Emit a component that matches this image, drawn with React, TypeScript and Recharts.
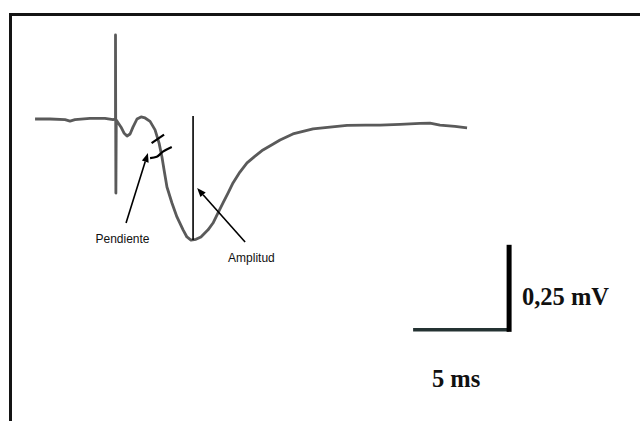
import React from 'react';
import { ComposedChart, Line, XAxis, YAxis, ReferenceLine, ReferenceDot } from 'recharts';

// Field potential trace: time in ms (0 = stimulus), voltage in mV (0 = baseline)
const traceTime = [
  -4.19, -3.41, -2.63, -2.37, -2.11, -1.33, -0.55, -0.13, 0, 0, 0.02, 0.04,
  0.29, 0.44, 0.6, 0.76, 0.91, 1.12, 1.33, 1.54, 1.8, 2.06, 2.27, 2.42, 2.53,
  2.68, 2.94, 3.2, 3.52, 3.72, 3.93, 4.19, 4.45, 4.82, 5.08, 5.34, 5.6, 5.86,
  6.12, 6.48, 6.85, 7.27, 7.68, 8.15, 8.57, 9.24, 9.87, 10.29, 11.17, 12.06,
  13.0, 13.78, 14.82, 15.86, 16.38, 16.9, 17.68, 18.31,
];
const traceVoltage = [
  0, 0, -0.002, -0.006, -0.002, 0.002, 0.002, -0.002, 0, 0.247, -0.218, -0.003,
  -0.024, -0.041, -0.05, -0.044, -0.024, 0, 0.006, 0.003, -0.007, -0.032, -0.071,
  -0.112, -0.15, -0.2, -0.247, -0.288, -0.326, -0.347, -0.356, -0.354, -0.347,
  -0.326, -0.306, -0.276, -0.247, -0.218, -0.188, -0.156, -0.129, -0.109, -0.091,
  -0.076, -0.062, -0.044, -0.035, -0.029, -0.024, -0.019, -0.018, -0.018, -0.016,
  -0.013, -0.012, -0.018, -0.022, -0.026,
];

// Slope markers on the falling phase
const slopeTickA = [{ t: 1.88, v: -0.071 }, { t: 2.53, v: -0.046 }];
const slopeTickBTime = [1.8, 2.15, 2.47, 2.93];
const slopeTickBVoltage = [-0.115, -0.111, -0.096, -0.082];

// Amplitude measurement: vertical line from baseline to the negative peak
const amplitudeTime = 4.04;
const amplitudeTop = 0.009;
const peakVoltage = -0.356;

// Annotation arrows: [tail, head]
const slopeArrow = [{ t: 0.55, v: -0.306 }, { t: 1.69, v: -0.1 }];
const amplitudeArrow = [{ t: 6.75, v: -0.362 }, { t: 4.25, v: -0.203 }];

// Calibration bar
const scaleBarMs = 5;
const scaleBarMv = 0.25;
const scaleCorner = { t: 20.5, v: -0.62 };

const labelTexts = ['Pendiente', 'Amplitud', '0,25 mV', '5 ms'];

const W = 640;
const H = 421;
const PX_PER_MS = 19.2;
const PX_PER_MV = 340;
const STIM_X = 115.5;
const BASE_Y = 119;
const T_MIN = -STIM_X / PX_PER_MS;
const T_MAX = (W - STIM_X) / PX_PER_MS;
const V_MAX = BASE_Y / PX_PER_MV;
const V_MIN = -(H - BASE_Y) / PX_PER_MV;

const traceData = traceTime.map((t, i) => ({ t, v: traceVoltage[i] }));
const slopeTickB = slopeTickBTime.map((t, i) => ({ t, v: slopeTickBVoltage[i] }));

const arrowShape = (props: any) => {
  const { x1, y1, x2, y2 } = props;
  const ang = Math.atan2(y2 - y1, x2 - x1);
  const len = 9;
  const half = 3.5;
  const bx = x2 - len * Math.cos(ang);
  const by = y2 - len * Math.sin(ang);
  const p1 = `${bx + half * Math.sin(ang)},${by - half * Math.cos(ang)}`;
  const p2 = `${bx - half * Math.sin(ang)},${by + half * Math.cos(ang)}`;
  return (
    <g>
      <line x1={x1} y1={y1} x2={bx} y2={by} stroke="#000" strokeWidth={1.6} />
      <polygon points={`${x2},${y2} ${p1} ${p2}`} fill="#000" />
    </g>
  );
};

const textShape =
  (text: string, opts: { size: number; family: string; weight?: string; anchor?: string }) =>
  (props: any) => (
    <text
      x={props.cx}
      y={props.cy}
      fontSize={opts.size}
      fontFamily={opts.family}
      fontWeight={opts.weight || 'normal'}
      textAnchor={opts.anchor || 'start'}
      dominantBaseline="central"
      fill="#111"
    >
      {text}
    </text>
  );

const SANS = '"Liberation Sans", Arial, sans-serif';
const SERIF = '"Liberation Serif", "Times New Roman", serif';

export default function App() {
  return (
    <div style={{ position: 'fixed', left: 0, top: 0, width: W, height: H, background: '#fff', overflow: 'hidden' }}>
      <div
        style={{
          position: 'absolute',
          left: 9,
          top: 13,
          width: W,
          height: H,
          borderTop: '3px solid #141414',
          borderLeft: '3px solid #141414',
        }}
      />
      <div style={{ position: 'absolute', left: 0, top: 0 }}>
        <ComposedChart width={W} height={H} margin={{ top: 0, right: 0, bottom: 0, left: 0 }}>
          <XAxis type="number" dataKey="t" domain={[T_MIN, T_MAX]} allowDataOverflow hide />
          <YAxis type="number" dataKey="v" domain={[V_MIN, V_MAX]} allowDataOverflow hide />

          <Line
            data={traceData}
            dataKey="v"
            type="linear"
            stroke="#5a5a5a"
            strokeWidth={2.8}
            strokeLinejoin="round"
            dot={false}
            activeDot={false}
            isAnimationActive={false}
          />

          <ReferenceLine
            segment={[{ x: amplitudeTime, y: amplitudeTop }, { x: amplitudeTime, y: peakVoltage }]}
            stroke="#000"
            strokeWidth={1.6}
          />

          <ReferenceLine
            segment={[{ x: slopeTickA[0].t, y: slopeTickA[0].v }, { x: slopeTickA[1].t, y: slopeTickA[1].v }]}
            stroke="#000"
            strokeWidth={2.2}
          />
          <Line
            data={slopeTickB}
            dataKey="v"
            type="monotone"
            stroke="#000"
            strokeWidth={2.2}
            dot={false}
            activeDot={false}
            isAnimationActive={false}
          />

          <ReferenceLine
            segment={[{ x: slopeArrow[0].t, y: slopeArrow[0].v }, { x: slopeArrow[1].t, y: slopeArrow[1].v }]}
            shape={arrowShape}
          />
          <ReferenceLine
            segment={[
              { x: amplitudeArrow[0].t, y: amplitudeArrow[0].v },
              { x: amplitudeArrow[1].t, y: amplitudeArrow[1].v },
            ]}
            shape={arrowShape}
          />

          {/* calibration bar */}
          <ReferenceLine
            segment={[
              { x: scaleCorner.t - scaleBarMs, y: scaleCorner.v },
              { x: scaleCorner.t, y: scaleCorner.v },
            ]}
            stroke="#243232"
            strokeWidth={3.5}
          />
          <ReferenceLine
            segment={[
              { x: scaleCorner.t, y: scaleCorner.v + scaleBarMv },
              { x: scaleCorner.t, y: scaleCorner.v - 0.006 },
            ]}
            stroke="#000"
            strokeWidth={5}
          />

          <ReferenceDot x={0.365} y={-0.354} shape={textShape(labelTexts[0], { size: 12, family: SANS, anchor: 'middle' })} />
          <ReferenceDot x={7.08} y={-0.409} shape={textShape(labelTexts[1], { size: 12, family: SANS, anchor: 'middle' })} />
          <ReferenceDot x={21.17} y={-0.5206} shape={textShape(labelTexts[2], { size: 24.5, family: SERIF, weight: 'bold' })} />
          <ReferenceDot x={16.48} y={-0.762} shape={textShape(labelTexts[3], { size: 24.5, family: SERIF, weight: 'bold' })} />
        </ComposedChart>
      </div>
    </div>
  );
}
